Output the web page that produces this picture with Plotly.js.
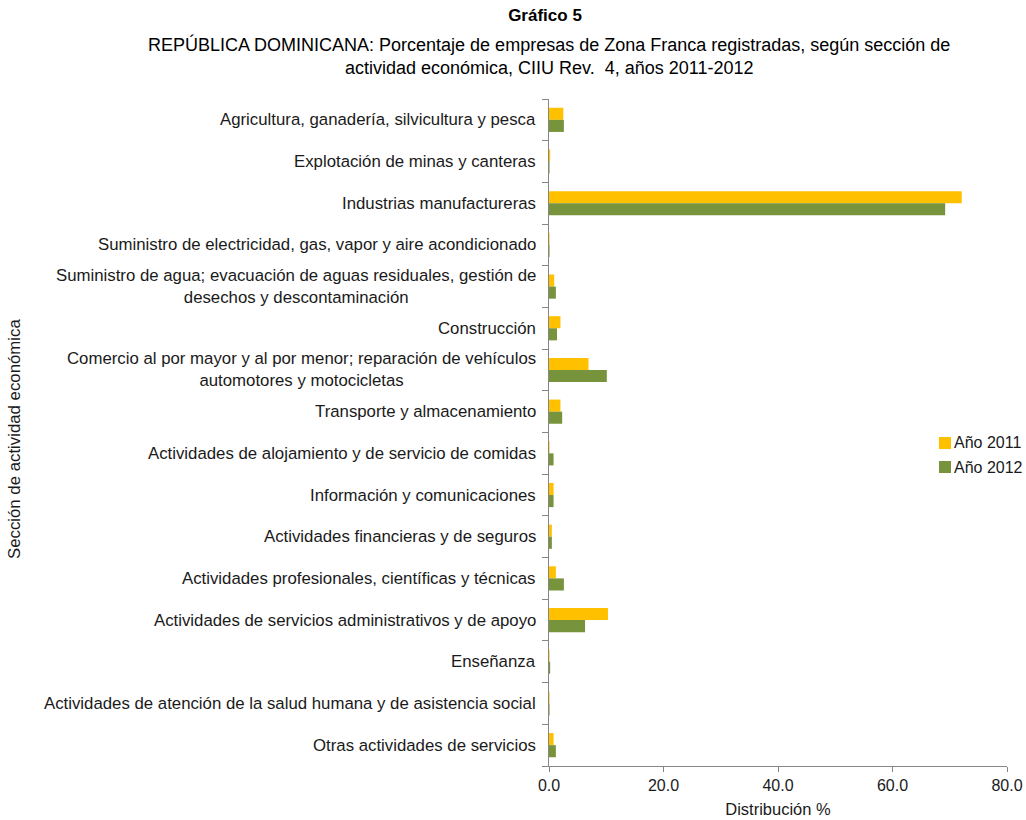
<!DOCTYPE html>
<html>
<head>
<meta charset="utf-8">
<script src="https://cdn.plot.ly/plotly-3.0.1.min.js"></script>
<style>body{margin:0;background:#fff;} #chart{width:1026px;height:820px;}</style>
</head>
<body>
<div id="chart"></div>
<script>
const categories = [
  "Agricultura, ganadería, silvicultura y pesca",
  "Explotación de minas y canteras",
  "Industrias manufactureras",
  "Suministro de electricidad, gas, vapor y aire acondicionado",
  "Suministro de agua; evacuación de aguas residuales, gestión de<br>desechos y descontaminación",
  "Construcción",
  "Comercio al por mayor y al por menor; reparación de vehículos<br>automotores y motocicletas",
  "Transporte y almacenamiento",
  "Actividades de alojamiento y de servicio de comidas",
  "Información y comunicaciones",
  "Actividades financieras y de seguros",
  "Actividades profesionales, científicas y técnicas",
  "Actividades de servicios administrativos y de apoyo",
  "Enseñanza",
  "Actividades de atención de la salud humana y de asistencia social",
  "Otras actividades de servicios"
];
const values2011 = [2.5, 0.2, 72.1, 0.1, 0.9, 2.0, 6.9, 2.0, 0.1, 0.8, 0.5, 1.2, 10.3, 0.1, 0.1, 0.8];
const values2012 = [2.6, 0.1, 69.2, 0.1, 1.2, 1.4, 10.1, 2.3, 0.8, 0.8, 0.5, 2.6, 6.3, 0.2, 0.1, 1.2];
const seriesNames = ["Año 2011", "Año 2012"];
const seriesColors = ["#FFC000", "#77933C"];
const xTicks = [0, 20, 40, 60, 80];

const FONT = "Liberation Sans, Arial, sans-serif";
const TXT = "#1a1a1a";

// plot area in pixels (for converting reference positions to paper coords)
const L = 549, R = 1007, T = 99, B = 766;
const px = v => (v - L) / (R - L);
const py = v => (B - v) / (B - T);

const valueSets = [values2011, values2012];
const traces = seriesNames.map((name, s) => ({
  type: "bar", orientation: "h", name: name,
  y: categories.map((c, i) => i), x: valueSets[s],
  marker: {color: seriesColors[s]}, hoverinfo: "x", showlegend: false
}));

const catAnnotations = categories.map((c, i) => ({
  xref: "paper", yref: "y", x: 0, y: i, xanchor: "right", yanchor: "middle",
  xshift: -11, text: c, showarrow: false, align: "center",
  font: {family: FONT, size: 16.8, color: TXT}
}));

// legend drawn manually so it can sit at the reference position without shrinking the plot
const legendY = [443, 467];
const legendShapes = seriesNames.map((n, s) => ({
  type: "rect", xref: "paper", yref: "paper", layer: "above",
  x0: px(939), x1: px(951), y0: py(legendY[s] + 6), y1: py(legendY[s] - 6),
  fillcolor: seriesColors[s], line: {width: 0}
}));
const legendText = seriesNames.map((n, s) => ({
  xref: "paper", yref: "paper", x: px(952), y: py(legendY[s]), xanchor: "left", yanchor: "middle",
  showarrow: false, text: n, font: {family: FONT, size: 16, color: TXT}
}));

const layout = {
  width: 1026, height: 820,
  margin: {l: L, r: 1026 - R, t: T, b: 820 - B},
  paper_bgcolor: "#fff", plot_bgcolor: "#fff",
  font: {family: FONT, size: 16, color: TXT},
  barmode: "group", bargap: 0.42, bargroupgap: 0,
  showlegend: false,
  title: {text: "<b>Gráfico 5</b>", x: 545/1026, xref: "container", xanchor: "center",
          y: 1 - 15/820, yref: "container", yanchor: "middle",
          font: {family: FONT, size: 17, color: "#000"}},
  xaxis: {range: [0, 80], tickvals: xTicks, tickformat: ".1f", ticks: "outside", ticklen: 5,
          tickcolor: "#868686", showline: true, linecolor: "#868686", linewidth: 1,
          showgrid: false, zeroline: false, fixedrange: true,
          tickfont: {family: FONT, size: 16, color: TXT},
          title: {text: "Distribución %", standoff: 10, font: {family: FONT, size: 16.5, color: TXT}}},
  yaxis: {type: "linear", range: [15.5, -0.5], showticklabels: false,
          tickvals: categories.map((c, i) => i - 0.5).concat([categories.length - 0.5]),
          ticks: "outside", ticklen: 6, tickcolor: "#868686",
          showline: true, linecolor: "#868686", linewidth: 1, showgrid: false, zeroline: false},
  shapes: legendShapes,
  annotations: catAnnotations.concat(legendText, [
    {xref: "paper", yref: "paper", x: px(549), y: py(45), xanchor: "center", yanchor: "middle",
     showarrow: false, text: "REPÚBLICA DOMINICANA: Porcentaje de empresas de Zona Franca registradas, según sección de",
     font: {family: FONT, size: 18, color: "#000"}},
    {xref: "paper", yref: "paper", x: px(549), y: py(68), xanchor: "center", yanchor: "middle",
     showarrow: false, text: "actividad económica, CIIU Rev.  4, años 2011-2012",
     font: {family: FONT, size: 18, color: "#000"}},
    {xref: "paper", yref: "paper", x: px(14), y: py(439), xanchor: "center", yanchor: "middle",
     showarrow: false, textangle: -90, text: "Sección de actividad económica",
     font: {family: FONT, size: 16.8, color: TXT}}
  ])
};

Plotly.newPlot("chart", traces, layout, {displayModeBar: false, staticPlot: true});
</script>
</body>
</html>
